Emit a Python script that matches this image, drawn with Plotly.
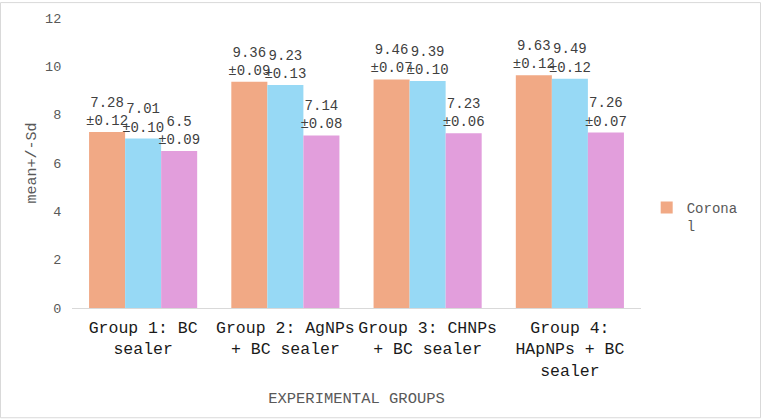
import plotly.graph_objects as go

categories = ["Group 1: BC<br>sealer", "Group 2: AgNPs<br>+ BC sealer",
              "Group 3: CHNPs<br>+ BC sealer", "Group 4:<br>HApNPs + BC<br>sealer"]
series_names = ["Coronal", "Middle", "Apical"]
coronal = [7.28, 9.36, 9.46, 9.63]
coronal_sd = [0.12, 0.09, 0.07, 0.12]
middle = [7.01, 9.23, 9.39, 9.49]
middle_sd = [0.10, 0.13, 0.10, 0.12]
apical = [6.5, 7.14, 7.23, 7.26]
apical_sd = [0.09, 0.08, 0.06, 0.07]
y_ticks = [0, 2, 4, 6, 8, 10, 12]

colors = ["#F1A985", "#97D9F5", "#E29EDC"]
FONT = "Liberation Mono"

W, H = 761, 419
ML, MR, MT, MB = 72, 120, 16, 111
PW, PH = W - ML - MR, H - MT - MB

fig = go.Figure()
for i, (name, vals, sds) in enumerate(zip(series_names,
                                          [coronal, middle, apical],
                                          [coronal_sd, middle_sd, apical_sd])):
    fig.add_trace(go.Bar(
        x=categories, y=vals, name=("Corona<br>l" if i == 0 else name),
        marker=dict(color=colors[i], line=dict(width=0)),
        text=[f"{v}<br>±{s:.2f}" for v, s in zip(vals, sds)],
        textposition="outside", constraintext="none", cliponaxis=False,
        textfont=dict(family=FONT, size=14, color="#404040"),
        showlegend=(i == 0),
    ))

fig.update_layout(
    width=W, height=H,
    margin=dict(l=ML, r=MR, t=MT, b=MB),
    paper_bgcolor="white", plot_bgcolor="white",
    barmode="group", bargap=0.24, bargroupgap=0,
    font=dict(family=FONT, color="#595959"),
    legend=dict(x=1.01, y=0.40, xanchor="left", yanchor="top",
                valign="top", font=dict(family=FONT, size=14, color="#595959"),
                bgcolor="rgba(0,0,0,0)"),
    xaxis=dict(showline=True, linecolor="#d9d9d9", linewidth=1,
               showgrid=False, ticks="", ticklabelstandoff=4,
               tickfont=dict(family=FONT, size=16.5, color="#1a1a1a"),
               title=dict(text="EXPERIMENTAL GROUPS", standoff=12,
                          font=dict(family=FONT, size=15.5, color="#595959"))),
    yaxis=dict(range=[0, 12], tickvals=y_ticks, showgrid=False,
               showline=False, zeroline=False,
               ticks="outside", ticklen=7, tickcolor="rgba(0,0,0,0)",
               tickfont=dict(family=FONT, size=13.5, color="#595959"),
               title=dict(text="mean+/-Sd", standoff=4,
                          font=dict(family=FONT, size=15, color="#595959"))),
    shapes=[dict(type="rect", xref="paper", yref="paper",
                 x0=(0.5 - ML) / PW, x1=(W - 0.5 - ML) / PW,
                 y0=-(MB - 0.5) / PH, y1=(PH + MT - 0.5) / PH,
                 line=dict(color="#d9d9d9", width=1), layer="below")],
)

fig.write_html("out.html")
